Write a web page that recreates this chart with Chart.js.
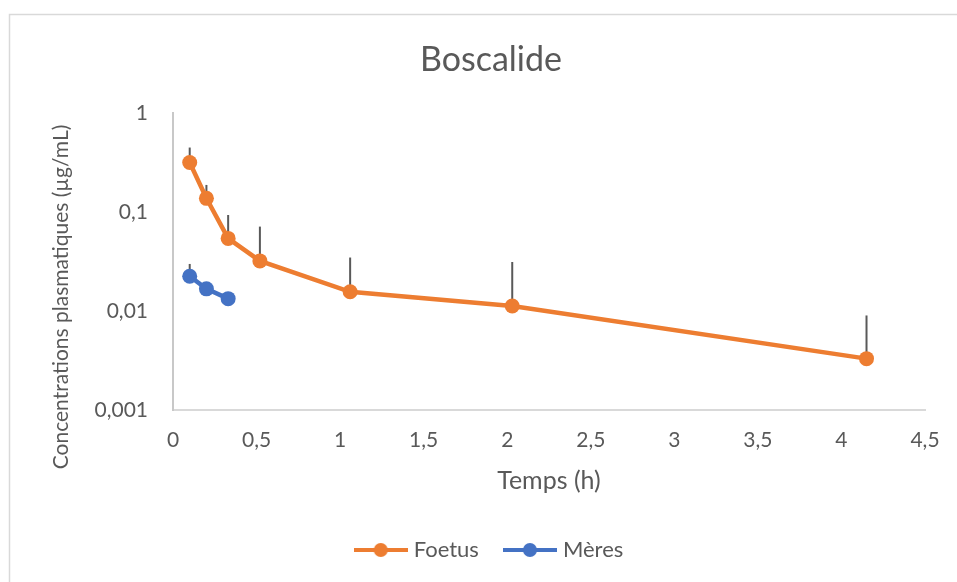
<!DOCTYPE html>
<html>
<head>
<meta charset="utf-8">
<script src="https://cdn.jsdelivr.net/npm/chart.js@4.4.0/dist/chart.umd.min.js"></script>
<style>
  html, body { margin: 0; padding: 0; background: #fff; overflow: hidden; }
  #wrap { position: relative; width: 982px; height: 582px; }
</style>
</head>
<body>
<div id="wrap"><canvas id="chart"></canvas></div>
<script>
// data
const foetusTimes = [0.1, 0.2, 0.33, 0.52, 1.06, 2.03, 4.15];
const foetusConc = [0.315, 0.137, 0.054, 0.032, 0.0156, 0.0112, 0.0033];
const foetusErr = [0.131, 0.05, 0.039, 0.039, 0.019, 0.02, 0.0057];

const meresTimes = [0.1, 0.2, 0.33];
const meresConc = [0.0224, 0.0167, 0.0133];
const meresErr = [0.0074, 0.002, 0.0015];

const yTicks = [0.001, 0.01, 0.1, 1];
const yTickLabels = ["0,001", "0,01", "0,1", "1"];

const textColor = "#595959";
const fontFamily = "Lato, 'Open Sans', sans-serif";

function toPoints(xs, ys) {
  return xs.map((x, i) => ({ x: x, y: ys[i] }));
}

function legendIcon(color) {
  const c = document.createElement("canvas");
  c.width = 54;
  c.height = 16;
  const g = c.getContext("2d");
  g.strokeStyle = color;
  g.lineWidth = 4;
  g.beginPath();
  g.moveTo(0, 8);
  g.lineTo(54, 8);
  g.stroke();
  g.fillStyle = color;
  g.beginPath();
  g.arc(27, 8, 7, 0, Math.PI * 2);
  g.fill();
  return c;
}

// upward error bars, drawn under the markers
const errorBars = {
  id: "errorBars",
  beforeDatasetsDraw(chart) {
    const ctx = chart.ctx;
    const xs = chart.scales.x, ys = chart.scales.y;
    ctx.save();
    ctx.strokeStyle = "#595959";
    ctx.lineWidth = 2;
    chart.data.datasets.forEach(ds => {
      ds.data.forEach((p, i) => {
        const px = xs.getPixelForValue(p.x);
        ctx.beginPath();
        ctx.moveTo(px, ys.getPixelForValue(p.y));
        ctx.lineTo(px, ys.getPixelForValue(p.y + ds.errUp[i]));
        ctx.stroke();
      });
    });
    ctx.restore();
  }
};

// frame + vertical axis title
const decor = {
  id: "decor",
  beforeDraw(chart) {
    const ctx = chart.ctx;
    ctx.save();
    ctx.strokeStyle = "#d9d9d9";
    ctx.lineWidth = 1.5;
    ctx.strokeRect(9.5, 14.5, chart.width + 20, chart.height + 20);
    ctx.restore();
  },
  afterDraw(chart) {
    const ctx = chart.ctx;
    ctx.save();
    ctx.translate(61, 297);
    ctx.rotate(-Math.PI / 2);
    ctx.font = "21px " + fontFamily;
    ctx.fillStyle = textColor;
    ctx.textAlign = "center";
    ctx.textBaseline = "middle";
    ctx.fillText("Concentrations plasmatiques (µg/mL)", 0, 0);
    ctx.restore();
  }
};

function createChart() {
  const ctx = document.getElementById("chart").getContext("2d");
  new Chart(ctx, {
    type: "line",
    data: {
      datasets: [
        {
          label: "Foetus",
          data: toPoints(foetusTimes, foetusConc),
          errUp: foetusErr,
          borderColor: "#ED7D31",
          backgroundColor: "#ED7D31",
          pointBackgroundColor: "#ED7D31",
          pointBorderColor: "#ED7D31",
          pointRadius: 7.5,
          pointBorderWidth: 0,
          borderWidth: 4.5,
          tension: 0,
          fill: false
        },
        {
          label: "Mères",
          data: toPoints(meresTimes, meresConc),
          errUp: meresErr,
          borderColor: "#4472C4",
          backgroundColor: "#4472C4",
          pointBackgroundColor: "#4472C4",
          pointBorderColor: "#4472C4",
          pointRadius: 7.5,
          pointBorderWidth: 0,
          borderWidth: 4.5,
          tension: 0,
          fill: false
        }
      ]
    },
    options: {
      responsive: true,
      maintainAspectRatio: false,
      animation: false,
      layout: { padding: { left: 57, right: 57, top: 0, bottom: 11 } },
      scales: {
        x: {
          type: "linear",
          min: 0,
          max: 4.5,
          grid: { display: false, drawTicks: false },
          border: { color: "#d9d9d9", width: 2 },
          ticks: {
            stepSize: 0.5,
            padding: 18,
            color: textColor,
            font: { family: fontFamily, size: 21 },
            callback: v => String(v).replace(".", ",")
          },
          title: {
            display: true,
            text: "Temps (h)",
            color: textColor,
            font: { family: fontFamily, size: 25 },
            padding: { top: 0, bottom: 14 }
          },
          afterFit(s) {
            s.height = s.chart.height - 11 - s.chart.legend.height - 410;
          }
        },
        y: {
          type: "logarithmic",
          min: 0.001,
          max: 1,
          grid: { display: false, drawTicks: false },
          border: { color: "#c8c8c8", width: 2 },
          afterBuildTicks(s) {
            s.ticks = yTicks.map(v => ({ value: v }));
          },
          ticks: {
            padding: 25,
            color: textColor,
            font: { family: fontFamily, size: 21 },
            callback: v => yTickLabels[yTicks.indexOf(v)]
          },
          afterFit(s) {
            s.width = 173 - 57;
          }
        }
      },
      plugins: {
        title: {
          display: true,
          text: "Boscalide",
          color: textColor,
          font: { family: fontFamily, size: 34, weight: "normal" },
          padding: { top: 40, bottom: 32 }
        },
        legend: {
          display: true,
          position: "bottom",
          labels: {
            usePointStyle: true,
            pointStyleWidth: 44,
            padding: 29,
            color: textColor,
            font: { family: fontFamily, size: 22 },
            generateLabels(chart) {
              return chart.data.datasets.map((ds, i) => ({
                text: ds.label,
                fillStyle: ds.borderColor,
                strokeStyle: ds.borderColor,
                lineWidth: 0,
                fontColor: textColor,
                pointStyle: legendIcon(ds.borderColor),
                hidden: false,
                datasetIndex: i
              }));
            }
          }
        },
        tooltip: { enabled: false }
      }
    },
    plugins: [errorBars, decor]
  });
}

window.addEventListener("load", createChart);
</script>
</body>
</html>
